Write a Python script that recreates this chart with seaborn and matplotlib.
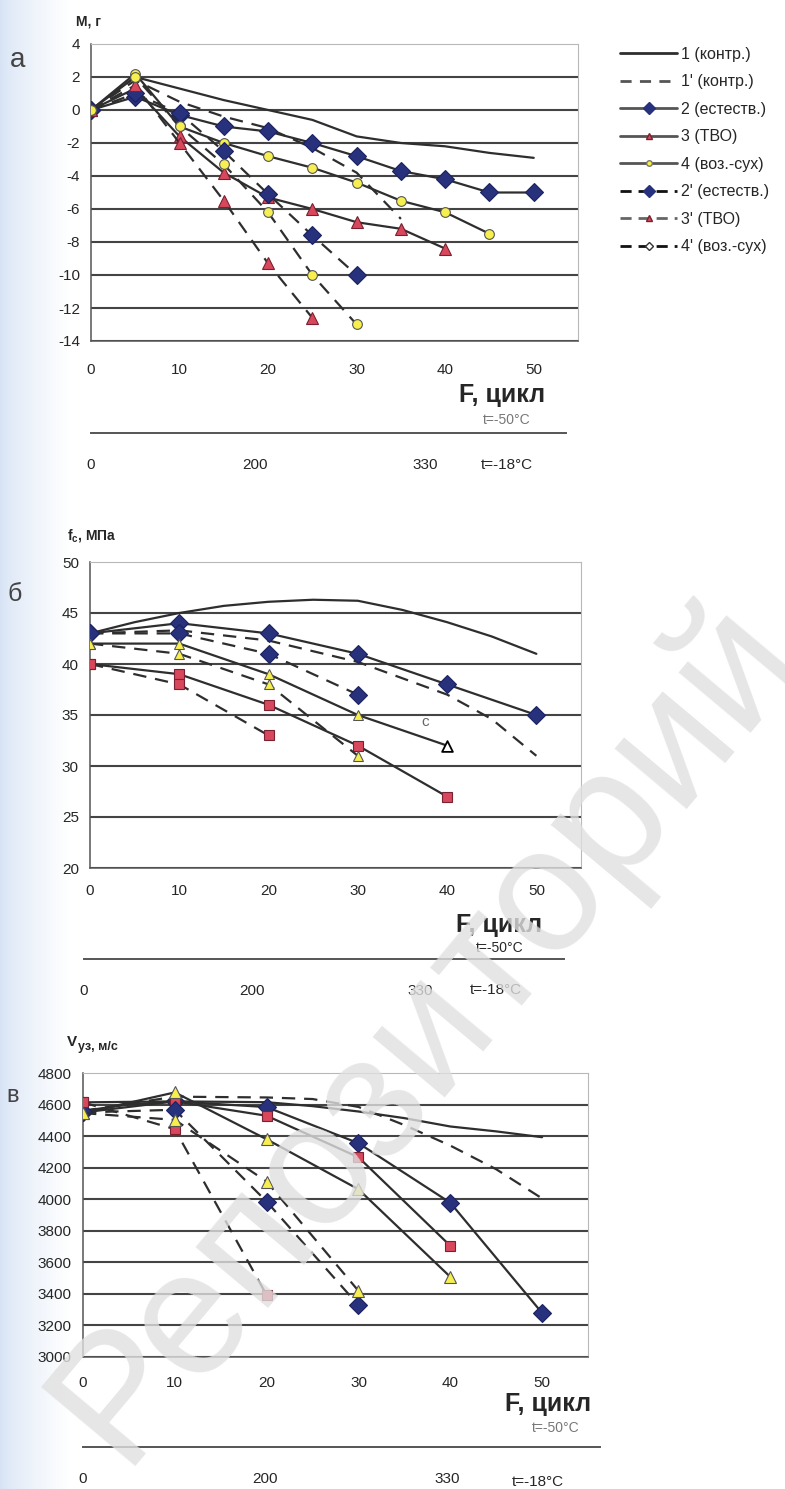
import matplotlib
matplotlib.use("Agg")
import matplotlib.pyplot as plt
from matplotlib.lines import Line2D
import numpy as np
import seaborn as sns

# ---------------- data ----------------
# panel a : mass change M, g  (x every 5 cycles)
A_X = [0, 5, 10, 15, 20, 25, 30, 35, 40, 45, 50]
A1 = [0, 2.0, 1.3, 0.6, 0.0, -0.6, -1.6, -2.0, -2.2, -2.6, -2.9]
A1P = [0, 1.8, 0.5, -0.4, -1.1, -2.3, -3.8, -6.6]
A2 = [0, 0.8, -0.3, -1.0, -1.3, -2.0, -2.8, -3.7, -4.2, -5.0, -5.0]
A3 = [0, 1.3, -1.6, -3.8, -5.3, -6.0, -6.8, -7.2, -8.4]
A4 = [0, 2.2, -1.0, -2.0, -2.8, -3.5, -4.4, -5.5, -6.2, -7.5]
A2P = [0, 1.0, -0.2, -2.5, -5.1, -7.6, -10.0]
A3P = [0, 1.5, -2.0, -5.5, -9.3, -12.6]
A4P = [0, 2.0, -1.0, -3.3, -6.2, -10.0, -13.0]

# panel b : compressive strength fc, MPa
B_X = [0, 10, 20, 30, 40, 50]
B1_X = [0, 5, 10, 15, 20, 25, 30, 35, 40, 45, 50]
B1 = [43, 44.1, 45, 45.7, 46.1, 46.3, 46.2, 45.3, 44.1, 42.7, 41]
B1P_X = [0, 10, 20, 30, 40, 45, 50]
B1P = [43, 43.3, 42.3, 40.2, 37, 34.6, 31]
B2 = [43, 44, 43, 41, 38, 35]
B2P = [43, 43, 41, 37]
B3 = [40, 39, 36, 32, 27]
B3P = [40, 38, 33]
B4 = [42, 42, 39, 35, 32]
B4P = [42, 41, 38, 31]

# panel v : ultrasonic velocity, m/s
V_X = [0, 10, 20, 30, 40, 50]
V1_X = [0, 5, 10, 20, 25, 30, 35, 40, 45, 50]
V1 = [4560, 4600, 4620, 4615, 4590, 4556, 4514, 4461, 4430, 4393]
V1P_X = [0, 10, 20, 25, 30, 35, 40, 45, 50]
V1P = [4560, 4650, 4645, 4635, 4585, 4470, 4340, 4190, 4005]
V2 = [4550, 4620, 4584, 4355, 3978, 3279]
V3 = [4614, 4620, 4529, 4266, 3705]
V4 = [4546, 4677, 4380, 4063, 3508]
V2P = [4550, 4567, 3985, 3328]
V3P = [4614, 4444, 3392]
V4P = [4546, 4503, 4112, 3419]

LEGEND = ["1 (контр.)", "1' (контр.)", "2 (естеств.)", "3 (ТВО)",
          "4 (воз.-сух)", "2' (естеств.)", "3' (ТВО)", "4' (воз.-сух)"]
RULER_LABELS = ["0", "200", "330"]

# ---------------- style ----------------
sns.set_style("white")
plt.rcParams['font.family'] = ['Liberation Sans', 'DejaVu Sans']
plt.rcParams['axes.unicode_minus'] = False

W, H = 785, 1489
fig = plt.figure(figsize=(W / 100, H / 100), dpi=100)

# bluish tint of the scan on the left edge
bg = fig.add_axes([0, 0, 70 / W, 1], zorder=-5)
grad = np.linspace(0, 1, 70)[None, :, None]
tint = np.array([0.84, 0.89, 0.96])[None, None, :]
bg.imshow(tint + (1 - tint) * grad ** 0.7, aspect='auto', extent=(0, 1, 0, 1))
bg.axis('off')

LINE = '#2e2e2e'
NAVY = '#27317c'
RED = '#d8485c'
YEL = '#f7ef4f'
DASH = (0, (6, 4))


def box(l, t, r, b):
    return [l / W, 1 - b / H, (r - l) / W, (b - t) / H]


def ftext(x, y, s, **kw):
    kw.setdefault('ha', 'center')
    kw.setdefault('va', 'center')
    fig.text(x / W, 1 - y / H, s, **kw)


def draw(ax, x, y, dashed=False, marker=None, mfc='none', ms=8, mec='#333333'):
    sns.lineplot(x=x, y=y, ax=ax, color=LINE, lw=1.6, errorbar=None,
                 linestyle=DASH if dashed else '-', marker=marker,
                 markersize=ms, markerfacecolor=mfc, markeredgecolor=mec,
                 markeredgewidth=0.8, zorder=3)


def setup(ax, ylim, yticks, xpad):
    ax.set_xlim(0, 55)
    ax.set_ylim(*ylim)
    ax.set_xticks([0, 10, 20, 30, 40, 50])
    ax.set_yticks(yticks)
    ax.set_xlabel('')
    ax.set_ylabel('')
    ax.grid(axis='y', color='#444444', lw=1.5)
    ax.grid(axis='x', visible=False)
    ax.get_ygridlines()[-1].set_visible(False)
    ax.set_axisbelow(True)
    ax.patch.set_alpha(0)
    for sp in ['top', 'right']:
        ax.spines[sp].set_color('#b8b8b8')
    for sp in ['left', 'bottom']:
        ax.spines[sp].set_color('#555555')
        ax.spines[sp].set_linewidth(1.1)
    ax.tick_params(axis='y', direction='out', length=5, labelsize=11, pad=3,
                   color='#555555')
    ax.tick_params(axis='x', direction='inout', length=7, labelsize=11,
                   pad=xpad, color='#555555')


def ruler(L, s, y, xr0, xr1, ticks, t18):
    r = fig.add_axes([(L + s * xr0) / W, 1 - y / H, s * (xr1 - xr0) / W, 0.0005])
    r.set_xlim(xr0, xr1)
    r.set_ylim(0, 1)
    r.set_yticks([])
    r.set_xticks(ticks)
    r.set_xticklabels(RULER_LABELS)
    r.patch.set_alpha(0)
    for sp in ['top', 'right', 'left']:
        r.spines[sp].set_visible(False)
    r.spines['bottom'].set_color('#555555')
    r.spines['bottom'].set_linewidth(1.4)
    r.tick_params(axis='x', direction='in', length=9, width=1.2, color='#555555',
                  labelsize=11, pad=18)
    ftext(t18[0], t18[1], "t=-18°C", fontsize=11)


# ---------------- panel a ----------------
axa = fig.add_axes(box(91, 44, 578, 341))
draw(axa, A_X, A1)
draw(axa, A_X[:len(A1P)], A1P, dashed=True)
draw(axa, A_X, A2, marker='D', mfc=NAVY, ms=9, mec='#1b2260')
draw(axa, A_X[:len(A3)], A3, marker='^', mfc=RED, ms=9, mec='#7a2030')
draw(axa, A_X[:len(A4)], A4, marker='o', mfc=YEL, ms=7, mec='#555555')
draw(axa, A_X[:len(A2P)], A2P, dashed=True, marker='D', mfc=NAVY, ms=9, mec='#1b2260')
draw(axa, A_X[:len(A3P)], A3P, dashed=True, marker='^', mfc=RED, ms=9, mec='#7a2030')
draw(axa, A_X[:len(A4P)], A4P, dashed=True, marker='o', mfc=YEL, ms=7, mec='#555555')
setup(axa, (-14, 4), list(range(-14, 5, 2)), 12)

ftext(18, 60, "а", fontsize=20, color='#444444')
ftext(88, 22, "M, г", fontsize=10, fontweight='bold')
ftext(502, 395, "F, цикл", fontsize=18, fontweight='bold')
ftext(507, 420, "t=-50°C", fontsize=10, color='#777777')
ruler(91, 487 / 55, 433, 0, 53.6, [0, 18.5, 37.7], (507, 465))

# legend
handles = [
    Line2D([], [], color=LINE, lw=2),
    Line2D([], [], color='#555555', lw=2, linestyle=(0, (4, 3))),
    Line2D([], [], color='#555555', lw=2, marker='D', ms=6, mfc=NAVY, mec=NAVY),
    Line2D([], [], color='#555555', lw=2, marker='^', ms=5, mfc=RED, mec='#7a2030'),
    Line2D([], [], color='#555555', lw=2, marker='o', ms=4, mfc=YEL, mec='#777777'),
    Line2D([], [], color='#111111', lw=2, linestyle=(0, (4, 2.5)), marker='D', ms=6,
           mfc=NAVY, mec=NAVY),
    Line2D([], [], color='#666666', lw=2, linestyle=(0, (4, 2.5)), marker='^', ms=5,
           mfc=RED, mec='#7a2030'),
    Line2D([], [], color='#111111', lw=2, linestyle=(0, (4, 2.5)), marker='D', ms=4,
           mfc='white', mec='#333333'),
]
fig.legend(handles, LEGEND, loc='upper left', bbox_to_anchor=(612 / W, 1 - 39 / H),
           frameon=False, fontsize=11.5, handlelength=3.6, handletextpad=0.2,
           labelspacing=0.78, borderpad=0)

# ---------------- panel b ----------------
axb = fig.add_axes(box(90, 562, 581, 868))
draw(axb, B1_X, B1)
draw(axb, B1P_X, B1P, dashed=True)
draw(axb, B_X, B2, marker='D', mfc=NAVY, ms=9, mec='#1b2260')
draw(axb, B_X[:len(B2P)], B2P, dashed=True, marker='D', mfc=NAVY, ms=9, mec='#1b2260')
draw(axb, B_X[:len(B3)], B3, marker='s', mfc=RED, ms=6.5, mec='#7a2030')
draw(axb, B_X[:len(B3P)], B3P, dashed=True, marker='s', mfc=RED, ms=6.5, mec='#7a2030')
sns.lineplot(x=B_X[:len(B4)], y=B4, ax=axb, color=LINE, lw=1.6, errorbar=None,
             marker='^', markersize=7, markerfacecolor=YEL, markeredgecolor='#555555',
             markevery=list(range(len(B4) - 1)), zorder=3)
sns.scatterplot(x=[B_X[len(B4) - 1]], y=[B4[-1]], ax=axb, marker='^', s=60,
                color='white', edgecolor='black', linewidth=1.3, zorder=4)
draw(axb, B_X[:len(B4P)], B4P, dashed=True, marker='^', mfc=YEL, ms=7, mec='#555555')
axb.text(37.5, 34.3, "c", fontsize=11, color='#666666', ha='center', va='center')
setup(axb, (20, 50), list(range(20, 51, 5)), 8)

ftext(15, 594, "б", fontsize=18, color='#444444')
ftext(92, 536, "f$_{\\mathregular{c}}$, МПа", fontsize=10, fontweight='bold')
ftext(499, 925, "F, цикл", fontsize=18, fontweight='bold')
ftext(500, 948, "t=-50°C", fontsize=10)
ruler(90, 491 / 55, 959, -0.7, 53.1, [-0.7, 18.1, 37.0], (496, 990))

# ---------------- panel v ----------------
axv = fig.add_axes(box(83, 1073, 588, 1357))
draw(axv, V1_X, V1)
draw(axv, V1P_X, V1P, dashed=True)
draw(axv, V_X, V2, marker='D', mfc=NAVY, ms=9, mec='#1b2260')
draw(axv, V_X[:len(V3)], V3, marker='s', mfc=RED, ms=6.5, mec='#7a2030')
draw(axv, V_X[:len(V4)], V4, marker='^', mfc=YEL, ms=8, mec='#555555')
draw(axv, V_X[:len(V2P)], V2P, dashed=True, marker='D', mfc=NAVY, ms=9, mec='#1b2260')
draw(axv, V_X[:len(V3P)], V3P, dashed=True, marker='s', mfc=RED, ms=6.5, mec='#7a2030')
draw(axv, V_X[:len(V4P)], V4P, dashed=True, marker='^', mfc=YEL, ms=8, mec='#555555')
setup(axv, (3000, 4800), list(range(3000, 4801, 200)), 10)

ftext(13, 1096, "в", fontsize=17, color='#444444')
ftext(72, 1042, "V", fontsize=11, fontweight='bold')
ftext(98, 1047, "уз, м/с", fontsize=9, fontweight='bold')
ftext(548, 1404, "F, цикл", fontsize=18, fontweight='bold')
ftext(556, 1428, "t=-50°C", fontsize=10, color='#777777')
ruler(83, 505 / 55, 1447, 0, 56.3, [0, 19.8, 39.7], (538, 1482))

# watermark of the scanned source
ftext(425, 1030, "Репозиторий", fontsize=128, rotation=50, color='#e0e0e0',
      alpha=0.8, zorder=10)

fig.savefig("out.png", dpi=100)
